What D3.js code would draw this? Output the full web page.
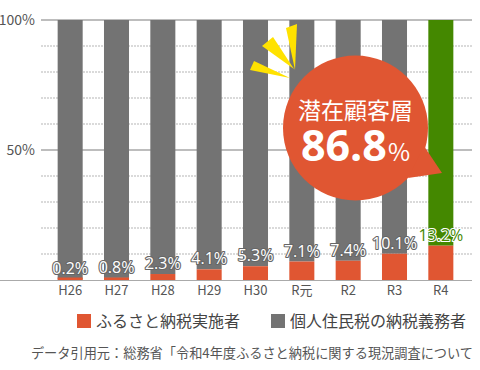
<!DOCTYPE html>
<html>
<head>
<meta charset="utf-8">
<script src="https://cdn.jsdelivr.net/npm/d3@7"></script>
<style>
  body { margin: 0; background: #fff; }
  svg { display: block; font-family: 'Noto Sans CJK JP', 'Noto Sans', sans-serif; }
</style>
</head>
<body>
<div id="chart"></div>
<script>
const categories = ['H26', 'H27', 'H28', 'H29', 'H30', 'R元', 'R2', 'R3', 'R4'];
const rates = [0.2, 0.8, 2.3, 4.1, 5.3, 7.1, 7.4, 10.1, 13.2];
const yTicks = [0, 10, 20, 30, 40, 50, 60, 70, 80, 90, 100];
const yLabels = [50, 100];
const legendItems = ['ふるさと納税実施者', '個人住民税の納税義務者'];
const potential = 86.8;

const w = 480;
const h = 370;

const orange = '#e05632';
const gray = '#737373';
const green = '#448800';

const svg = d3.select('#chart')
  .append('svg')
  .attr('width', w)
  .attr('height', h);

const xScale = d3.scaleBand()
  .domain(categories)
  .range([47, 464])
  .paddingInner(0.46)
  .paddingOuter(0.23);

const yScale = d3.scaleLinear()
  .domain([0, 100])
  .range([280, 20]);

// grid
svg.append('g')
  .selectAll('line')
  .data(yTicks.filter(d => d % 50 !== 0))
  .enter()
  .append('line')
  .attr('x1', 41)
  .attr('x2', 472)
  .attr('y1', d => yScale(d))
  .attr('y2', d => yScale(d))
  .attr('stroke', '#b5b5b5')
  .attr('stroke-dasharray', '2,1');

svg.append('g')
  .selectAll('line')
  .data(yLabels)
  .enter()
  .append('line')
  .attr('x1', 41)
  .attr('x2', 472)
  .attr('y1', d => yScale(d))
  .attr('y2', d => yScale(d))
  .attr('stroke', '#bdbdbd')
  .attr('stroke-width', 2);

svg.append('g')
  .selectAll('text')
  .data(yLabels)
  .enter()
  .append('text')
  .attr('x', 35)
  .attr('y', d => yScale(d) + 5)
  .attr('text-anchor', 'end')
  .attr('font-size', 14)
  .attr('fill', '#555')
  .text(d => d + '%');

// bars: remainder (residents) and furusato part
svg.append('g')
  .selectAll('rect')
  .data(categories)
  .enter()
  .append('rect')
  .attr('x', d => xScale(d))
  .attr('width', xScale.bandwidth())
  .attr('y', yScale(100))
  .attr('height', (d, i) => yScale(rates[i]) - yScale(100))
  .attr('fill', (d, i) => i === categories.length - 1 ? green : gray);

svg.append('g')
  .selectAll('rect')
  .data(categories)
  .enter()
  .append('rect')
  .attr('x', d => xScale(d))
  .attr('width', xScale.bandwidth())
  .attr('y', (d, i) => Math.min(yScale(rates[i]), yScale(0) - 2.5))
  .attr('height', (d, i) => Math.max(2.5, yScale(0) - yScale(rates[i])))
  .attr('fill', orange);

// baseline
svg.append('line')
  .attr('x1', 0)
  .attr('x2', 472)
  .attr('y1', yScale(0) + 0.5)
  .attr('y2', yScale(0) + 0.5)
  .attr('stroke', '#aaa');

// x labels
svg.append('g')
  .selectAll('text')
  .data(categories)
  .enter()
  .append('text')
  .attr('x', d => xScale(d) + xScale.bandwidth() / 2)
  .attr('y', 295)
  .attr('text-anchor', 'middle')
  .attr('font-size', 13)
  .attr('fill', '#555')
  .text(d => d);

// value labels
svg.append('g')
  .selectAll('text')
  .data(categories)
  .enter()
  .append('text')
  .attr('x', d => xScale(d) + xScale.bandwidth() / 2)
  .attr('y', (d, i) => yScale(rates[i]) - 5)
  .attr('text-anchor', 'middle')
  .attr('font-family', "'Open Sans', sans-serif")
  .attr('font-size', 16)
  .attr('paint-order', 'stroke')
  .attr('stroke-width', 2.2)
  .attr('stroke-linejoin', 'round')
  .attr('stroke', (d, i) => i === categories.length - 1 ? '#fff' : '#666')
  .attr('fill', (d, i) => i === categories.length - 1 ? green : '#fff')
  .text((d, i) => rates[i] + '%');

// yellow rays
const rays = [
  [[286, 28], [297, 24], [295, 70]],
  [[262, 46], [273, 37], [294, 69]],
  [[250, 70], [254, 61], [290, 78]]
];
svg.append('g')
  .selectAll('path')
  .data(rays)
  .enter()
  .append('path')
  .attr('d', d => 'M' + d.join('L') + 'Z')
  .attr('fill', '#ffe200');

// speech bubble
const cx = 355.5, cy = 128, r = 72.5;
const bubble = svg.append('g');
bubble.append('circle')
  .attr('cx', cx)
  .attr('cy', cy)
  .attr('r', r)
  .attr('fill', orange);
bubble.append('path')
  .attr('d', 'M424,146L442,173L408,178Z')
  .attr('fill', orange);

bubble.append('text')
  .attr('x', cx)
  .attr('y', 119)
  .attr('text-anchor', 'middle')
  .attr('font-size', 23)
  .attr('fill', '#fff')
  .text('潜在顧客層');

const big = bubble.append('text')
  .attr('x', cx)
  .attr('y', 161)
  .attr('text-anchor', 'middle')
  .attr('fill', '#fff');
big.append('tspan')
  .attr('font-family', "'Open Sans', 'Noto Sans', sans-serif")
  .attr('font-weight', 'bold')
  .attr('font-size', 43)
  .text(potential);
big.append('tspan')
  .attr('font-size', 24)
  .attr('dx', 1)
  .text('%');

// legend
const legendX = [77, 271];
const legendColors = [orange, gray];
const legend = svg.append('g')
  .selectAll('g')
  .data(legendItems)
  .enter()
  .append('g')
  .attr('transform', (d, i) => 'translate(' + legendX[i] + ',314)');
legend.append('rect')
  .attr('width', 14)
  .attr('height', 14)
  .attr('fill', (d, i) => legendColors[i]);
legend.append('text')
  .attr('x', 19)
  .attr('y', 13)
  .attr('font-size', 16)
  .attr('fill', '#444')
  .text(d => d);

svg.append('text')
  .attr('x', 473)
  .attr('y', 358)
  .attr('text-anchor', 'end')
  .attr('font-size', 13.2)
  .attr('fill', '#555')
  .text('データ引用元：総務省「令和4年度ふるさと納税に関する現況調査について');
</script>
</body>
</html>
